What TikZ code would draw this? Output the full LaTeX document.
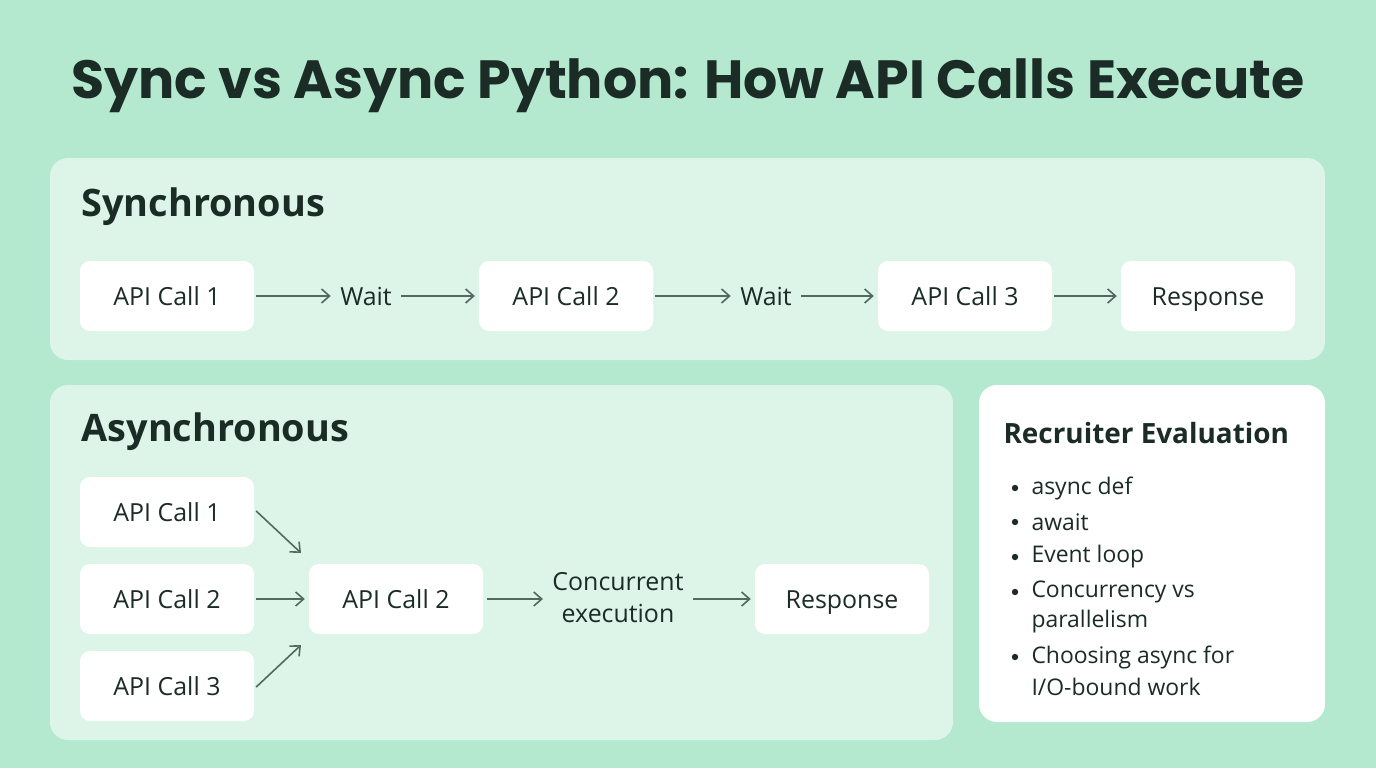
\documentclass[tikz,border=0pt]{standalone}
\usepackage{fontspec}
\setmainfont{Open Sans}
\newfontfamily\titlefont{Poppins}
\usetikzlibrary{arrows.meta}
\definecolor{bg}{HTML}{B4E8CF}
\definecolor{panel}{HTML}{DDF5E8}
\definecolor{ink}{HTML}{1B2B26}
\definecolor{arr}{HTML}{4F6A5F}
\begin{document}
\begin{tikzpicture}[x=1bp,y=-1bp,
  panelsty/.style={fill=panel,rounded corners=18bp,draw=none},
  box/.style={fill=white,rounded corners=10bp,minimum width=174bp,minimum height=70bp,inner sep=0,font=\fontsize{25}{28}\selectfont,text=ink,text height=20bp,text depth=2bp},
  lbl/.style={font=\fontsize{25}{32}\selectfont,text=ink,align=center},
  hdr/.style={font=\bfseries\fontsize{38}{44}\selectfont,text=ink,anchor=west},
  ar/.style={draw=arr,line width=1.6bp,-{Straight Barb[length=8bp,width=14bp,line width=1.6bp]}},
  bl/.style={font=\fontsize{23}{28}\selectfont,text=ink,anchor=west}]
\fill[bg] (0,0) rectangle (1376,768);
\useasboundingbox (0,0) rectangle (1376,768);
\node[font=\titlefont\bfseries\fontsize{54}{60}\selectfont,text=ink] (title) at (688,86) {Sync vs Async Python: How API Calls Execute};
% sync
\fill[panelsty] (50,158) rectangle (1325,360);
\node[hdr] (sh) at (78,207) {Synchronous};
\node[box] (s1) at (167,296) {API Call 1};
\node[lbl,text height=20bp,text depth=2bp] (w1) at (366,296) {Wait};
\node[box] (s2) at (566,296) {API Call 2};
\node[lbl,text height=20bp,text depth=2bp] (w2) at (766,296) {Wait};
\node[box] (s3) at (965,296) {API Call 3};
\node[box] (s4) at (1208,296) {Response};
\draw[ar] ([xshift=2bp]s1.east) -- ([xshift=-6bp]w1.west);
\draw[ar] ([xshift=6bp]w1.east) -- ([xshift=-4bp]s2.west);
\draw[ar] ([xshift=2bp]s2.east) -- ([xshift=-6bp]w2.west);
\draw[ar] ([xshift=6bp]w2.east) -- ([xshift=-4bp]s3.west);
\draw[ar] ([xshift=2bp]s3.east) -- ([xshift=-4bp]s4.west);
% async
\fill[panelsty] (50,385) rectangle (953,740);
\node[hdr] (ah) at (78,432) {Asynchronous};
\node[box] (a1) at (167,512) {API Call 1};
\node[box] (a2) at (167,599) {API Call 2};
\node[box] (a3) at (167,686) {API Call 3};
\node[box] (m) at (396,599) {API Call 2};
\node[lbl] (ce) at (618,598) {Concurrent\\execution};
\node[box] (r) at (842,599) {Response};
\coordinate (in1) at (301,553);
\coordinate (in3) at (301,645);
\draw[ar] ([xshift=2bp,yshift=1bp]a1.east) -- (in1);
\draw[ar] ([xshift=2bp]a2.east) -- ([xshift=-4bp]m.west);
\draw[ar] ([xshift=2bp,yshift=-1bp]a3.east) -- (in3);
\draw[ar] ([xshift=4bp]m.east) -- ([xshift=-6bp]m.east -| ce.west);
\draw[ar] ([xshift=6bp]r.west -| ce.east) -- ([xshift=-4bp]r.west);
% recruiter
\fill[white,rounded corners=18bp] (979,385) rectangle (1325,722);
\node[font=\bfseries\fontsize{28}{32}\selectfont,text=ink,anchor=west] (rt) at (1000,433) {Recruiter Evaluation};
\foreach \y/\t in {488/async def,522/await,557/Event loop,592/Concurrency vs,657/Choosing async for}{
  \fill[ink] (1015,\y) circle (3.2bp);
  \node[bl] at (1028,\y) {\t};}
\node[bl] (p1) at (1028,622) {parallelism};
\node[bl] (p2) at (1028,687) {I/O-bound work};
\end{tikzpicture}
\end{document}
